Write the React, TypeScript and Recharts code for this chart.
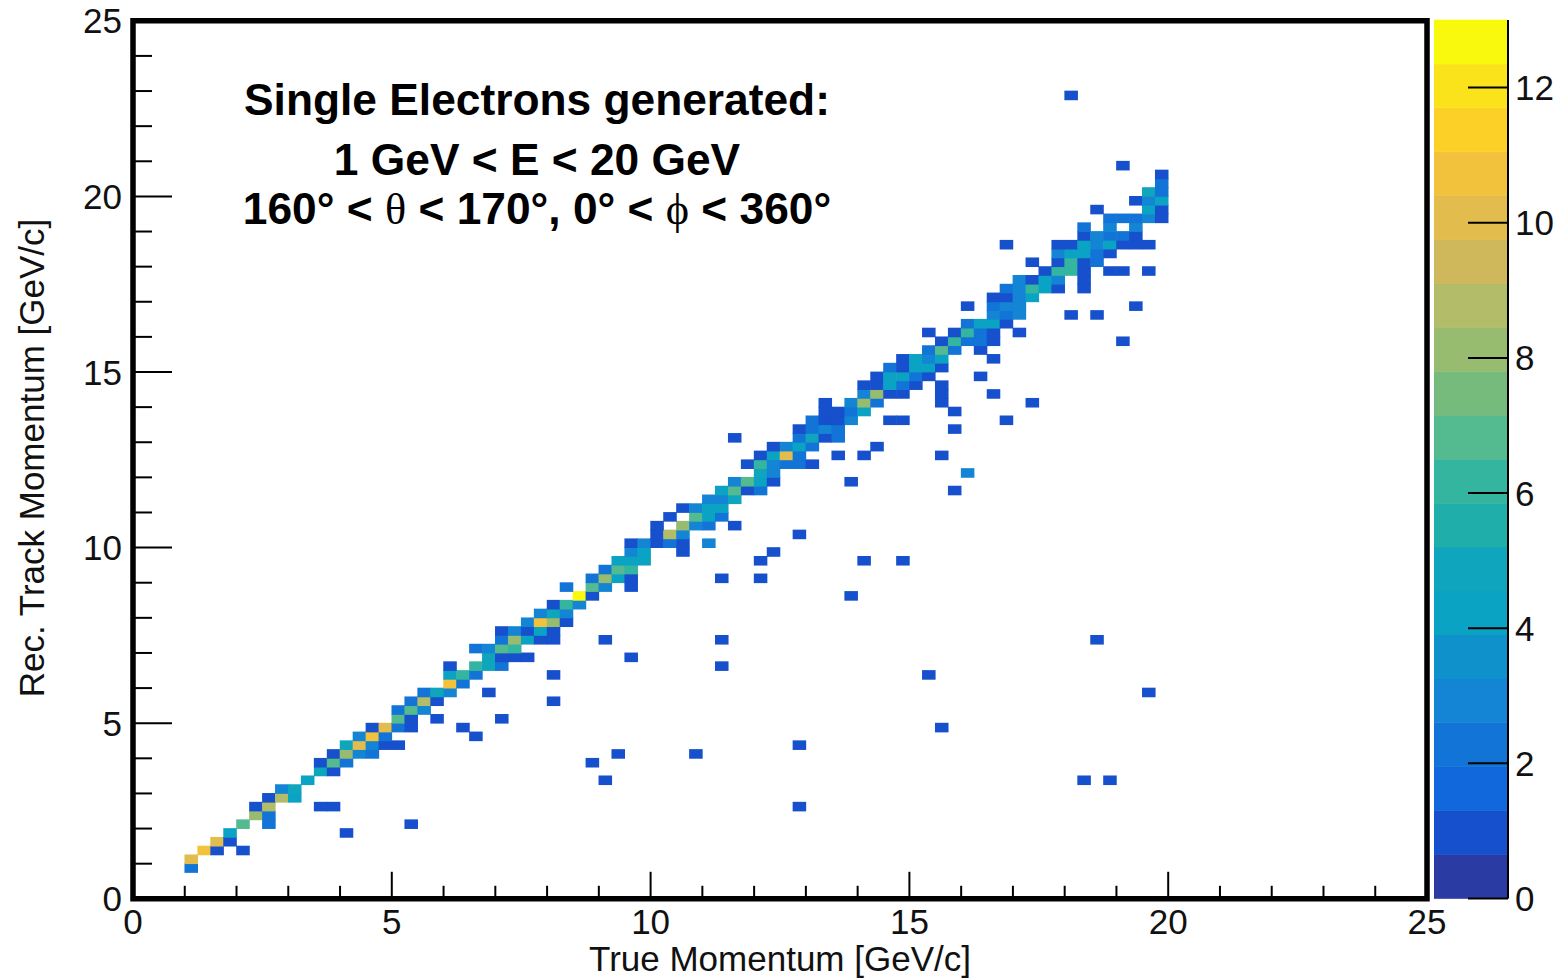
import { Bar, BarChart, ReferenceArea, Scatter, ScatterChart, XAxis, YAxis } from 'recharts';

// histogram is 100 x 100 bins over 0-25 GeV/c
const BIN = 0.25;

// one entry per filled row: row index on the rec. axis, then the filled true-axis bins and their entries
const recBins = [
  3, 4, 5, 6, 7, 8, 9, 10, 11, 12, 13, 14, 15, 16, 17, 18, 19, 20, 21, 22, 23, 24, 25, 26, 27, 28, 29,
  30, 31, 32, 33, 34, 35, 36, 37, 38, 39, 40, 41, 42, 43, 44, 45, 46, 47, 48, 49, 50, 51, 52, 53, 54,
  55, 56, 57, 58, 59, 60, 61, 62, 63, 64, 65, 66, 67, 68, 69, 70, 71, 72, 73, 74, 75, 76, 77, 78, 79,
  80, 81, 82, 83, 91,
];

const trueBins = [
  [4], [4], [5, 6, 8], [6, 7], [7, 16], [8, 10, 21], [9, 10], [9, 10, 14, 15, 51], [10, 11, 12], [11, 12],
  [13, 36, 73, 75], [14, 15], [14, 15, 16, 35], [15, 16, 17, 18, 37, 43], [16, 17, 18, 19, 20, 51],
  [17, 18, 19, 26], [18, 19, 20, 21, 25, 62], [20, 21, 23, 28], [20, 21, 22], [21, 22, 23, 32],
  [22, 23, 24, 27, 78], [24, 25], [24, 25, 26, 32, 61], [24, 26, 27, 28, 45], [27, 28, 29, 30, 38],
  [26, 27, 28, 29], [28, 29, 30, 31, 32, 36, 45, 74], [28, 29, 30, 31, 32], [30, 31, 32, 33], [31, 32, 33],
  [32, 33, 34], [34, 35, 55], [33, 35, 36, 38], [35, 36, 37, 38, 45, 48], [36, 37, 38],
  [37, 38, 39, 48, 56, 59], [38, 39, 42, 49], [38, 39, 40, 41, 42, 44], [40, 41, 42, 51], [40, 42, 43, 44, 46],
  [41, 43, 44, 45], [42, 43, 44, 45], [44, 45, 46], [45, 46, 47, 48, 63], [46, 47, 48, 49, 55], [48, 49, 64],
  [47, 48, 49, 50, 51, 52], [48, 49, 50, 51, 54, 56, 62], [49, 50, 51, 52, 57], [46, 51, 52, 53, 54],
  [51, 52, 53, 54, 63], [52, 53, 54, 55, 58, 59, 67], [53, 54, 55, 56, 63], [53, 55, 56, 57, 62, 69],
  [56, 57, 58, 59, 62, 66], [56, 57, 58, 59, 60, 62], [57, 58, 59, 60, 61, 65], [58, 59, 60, 61, 62],
  [59, 60, 61, 62, 66], [61, 62, 63, 65], [62, 63, 64, 65, 66, 76], [61, 63, 64, 65, 66, 68], [64, 65, 66, 67],
  [66, 67, 68, 72, 74], [64, 66, 67, 68, 77], [66, 67, 68, 69], [67, 68, 69, 70, 71, 73], [68, 69, 70, 71, 73],
  [70, 71, 72, 73, 75, 76, 78], [69, 71, 72, 73, 74], [71, 72, 73, 74, 75], [67, 71, 72, 73, 74, 75, 76, 77, 78],
  [73, 74, 75, 76, 77], [73, 75, 77], [75, 76, 77, 78, 79], [74, 78, 79], [77, 78, 79], [78, 79], [79], [79],
  [76], [72],
];

const entries = [
  [2], [10], [11, 1, 1], [10, 1], [4, 1], [7, 2, 1], [8, 2], [1, 9, 1, 1, 1], [1, 9, 4], [3, 5],
  [4, 1, 1, 1], [5, 1], [1, 7, 2, 1], [1, 8, 3, 2, 1, 1], [5, 10, 3, 1, 1, 1],
  [3, 11, 2, 1], [1, 10, 2, 1, 1, 1], [7, 1, 1, 1], [2, 7, 3], [2, 9, 1, 1],
  [2, 5, 3, 1, 1], [11, 2], [4, 6, 2, 1, 1], [1, 6, 5, 2, 1], [5, 1, 1, 1, 1],
  [2, 3, 7, 6], [2, 8, 4, 1, 1, 1, 1, 1], [1, 3, 1, 4, 1], [3, 11, 8, 1], [3, 5, 3],
  [1, 6, 3], [13, 1, 1], [2, 7, 3, 1], [2, 8, 4, 1, 1, 1], [2, 7, 6],
  [4, 4, 4, 1, 1, 1], [3, 4, 1, 1], [1, 3, 1, 2, 1, 3], [1, 9, 3, 1], [1, 8, 3, 2, 1],
  [1, 7, 4, 2], [1, 3, 4, 4], [3, 3, 5], [4, 7, 1, 2, 1], [3, 7, 4, 1, 1], [5, 3, 3],
  [1, 6, 3, 2, 2, 1], [1, 4, 10, 2, 1, 1, 1], [1, 3, 4, 2, 1], [1, 2, 5, 1, 2],
  [1, 2, 3, 2, 1], [2, 1, 1, 3, 1, 1, 1], [1, 1, 2, 4, 1], [1, 3, 8, 2, 1, 1],
  [3, 8, 1, 1, 1, 1], [1, 1, 4, 2, 1, 1], [1, 4, 4, 2, 1, 1], [2, 1, 4, 4, 1],
  [1, 4, 3, 4, 1], [2, 7, 2, 1], [1, 6, 2, 2, 1, 1], [1, 1, 6, 2, 1, 1], [2, 4, 4, 1],
  [3, 2, 3, 1, 1], [1, 2, 3, 3, 1], [1, 1, 3, 4], [2, 3, 6, 4, 1, 1], [3, 1, 4, 3, 1],
  [1, 6, 6, 1, 1, 1, 1], [1, 1, 6, 1, 2], [3, 4, 4, 2, 1], [1, 1, 1, 4, 3, 4, 1, 1, 1],
  [1, 3, 2, 2, 1], [2, 3, 3], [2, 2, 2, 3, 1], [1, 4, 1], [1, 3, 4], [5, 2], [2], [1],
  [1], [1],
];

const axisTicks = [
  0, 1, 2, 3, 4, 5, 6, 7, 8, 9, 10, 11, 12, 13, 14, 15, 16, 17, 18, 19, 20, 21, 22, 23, 24, 25,
];
const zTicks = [0, 2, 4, 6, 8, 10, 12];
const Z_MAX = 13;

// kBird-ish palette as shown on the color bar, bottom to top
const palette = [
  '#2a3ba4', '#1650cc', '#1068dc', '#1274d6', '#1385d4', '#0f92cc', '#0ba3c4', '#0fa5bd', '#20aeaa', '#34b5a0',
  '#54ba90', '#76bb7c', '#98bc6f', '#b3bc68', '#cfb85b', '#e2bc4d', '#f3c23c', '#fdd028', '#fbe31c', '#f9f90e',
];

const cells = recBins.flatMap((rec, i) =>
  trueBins[i].map((tr, n) => ({
    x: (tr + 0.5) * BIN,
    y: (rec + 0.5) * BIN,
    count: entries[i][n],
  })),
);

const barRow: Record<string, number | string> = { name: 'z' };
palette.forEach((_, i) => {
  barRow[`l${i}`] = Z_MAX / palette.length;
});

const FONT = '"Liberation Sans", Arial, sans-serif';
const INK = '#111';
const LABEL_SIZE = 35;
const W = 1560;
const H = 979;
const PLOT = { left: 133, right: 1427, top: 20.8, bottom: 898.8 };

const colorOf = (count: number) =>
  palette[Math.min(palette.length - 1, Math.floor((count * palette.length) / Z_MAX))];

// the reference is a slightly soft scan, cells bleed a little past their bin
const BinCell = (props: any) => {
  const w = ((PLOT.right - PLOT.left) / 25) * BIN + 0.6;
  const h = ((PLOT.bottom - PLOT.top) / 25) * BIN + 0.8;
  const count = props.payload?.count ?? props.count;
  return <rect x={props.cx - w / 2} y={props.cy - h / 2} width={w} height={h} fill={colorOf(count)} />;
};

const XTick = ({ x, y, payload }: any) => {
  const major = payload.value % 5 === 0;
  return (
    <g>
      <line x1={x} x2={x} y1={y} y2={y - (major ? 27 : 13)} stroke="#000" strokeWidth={2} />
      {major && (
        <text x={x} y={y + 35} textAnchor="middle" fontSize={LABEL_SIZE} fontFamily={FONT} fill={INK}>
          {payload.value}
        </text>
      )}
    </g>
  );
};

const YTick = ({ x, y, payload }: any) => {
  const major = payload.value % 5 === 0;
  return (
    <g>
      <line x1={x} x2={x + (major ? 39 : 19)} y1={y} y2={y} stroke="#000" strokeWidth={2} />
      {major && (
        <text x={x - 11} y={y + 12.5} textAnchor="end" fontSize={LABEL_SIZE} fontFamily={FONT} fill={INK}>
          {payload.value}
        </text>
      )}
    </g>
  );
};

const ZTick = ({ x, y, payload }: any) => (
  <g>
    <line x1={x - 40} x2={x} y1={y} y2={y} stroke="#000" strokeWidth={2} />
    <text x={x + 7} y={y + 12.5} textAnchor="start" fontSize={LABEL_SIZE} fontFamily={FONT} fill={INK}>
      {payload.value}
    </text>
  </g>
);

export default function App() {
  const note = { textAnchor: 'middle' as const, fontSize: 44.3, fontWeight: 700, fontFamily: FONT, fill: '#000' };
  const symbol = { fontFamily: '"Liberation Serif", serif', fontWeight: 400 };
  return (
    <div style={{ position: 'absolute', left: 0, top: 0, width: W, height: H, background: '#fff' }}>
      <div style={{ position: 'absolute', left: 0, top: 0 }}>
        <ScatterChart
          width={W}
          height={H}
          margin={{ top: PLOT.top, right: W - PLOT.right, bottom: 0, left: 0 }}
        >
          <XAxis
            type="number"
            dataKey="x"
            domain={[0, 25]}
            ticks={axisTicks}
            interval={0}
            height={H - PLOT.bottom}
            axisLine={false}
            tickLine={false}
            tickSize={0}
            tickMargin={0}
            tick={<XTick />}
          />
          <YAxis
            type="number"
            dataKey="y"
            domain={[0, 25]}
            ticks={axisTicks}
            interval={0}
            width={PLOT.left}
            axisLine={false}
            tickLine={false}
            tickSize={0}
            tickMargin={0}
            tick={<YTick />}
          />
          <Scatter data={cells} shape={<BinCell />} isAnimationActive={false} />
          <ReferenceArea x1={0} x2={25} y1={0} y2={25} fill="none" stroke="#000" strokeWidth={5.5} fillOpacity={0} />
          <text x={780} y={971} textAnchor="middle" fontSize={LABEL_SIZE} fontFamily={FONT} fill={INK}>
            True Momentum [GeV/c]
          </text>
          <text
            x={44}
            y={458}
            transform="rotate(-90 44 458)"
            textAnchor="middle"
            fontSize={LABEL_SIZE}
            fontFamily={FONT}
            fill={INK}
          >
            Rec. Track Momentum [GeV/c]
          </text>
          <text x={537} y={115} {...note}>
            Single Electrons generated:
          </text>
          <text x={537} y={175} {...note}>
            1 GeV &lt; E &lt; 20 GeV
          </text>
          <text x={537} y={224} {...note}>
            160° &lt;{'\u00a0'}<tspan {...symbol}>θ</tspan> &lt; 170°, 0° &lt;{'\u00a0'}
            <tspan {...symbol}>ϕ</tspan> &lt; 360°
          </text>
        </ScatterChart>
      </div>
      <div style={{ position: 'absolute', left: 1434, top: 0 }}>
        <BarChart
          width={W - 1434}
          height={H}
          data={[barRow]}
          barCategoryGap={0}
          margin={{ top: 20, right: 0, bottom: H - 898.5, left: 0 }}
        >
          <XAxis dataKey="name" hide />
          <YAxis
            orientation="right"
            type="number"
            domain={[0, Z_MAX]}
            ticks={zTicks}
            interval={0}
            width={52}
            axisLine={{ stroke: '#000', strokeWidth: 2 }}
            tickLine={false}
            tickSize={0}
            tickMargin={0}
            tick={<ZTick />}
          />
          {palette.map((color, i) => (
            <Bar
              key={color}
              dataKey={`l${i}`}
              stackId="z"
              fill={color}
              stroke={color}
              strokeWidth={0.6}
              isAnimationActive={false}
            />
          ))}
        </BarChart>
      </div>
    </div>
  );
}
